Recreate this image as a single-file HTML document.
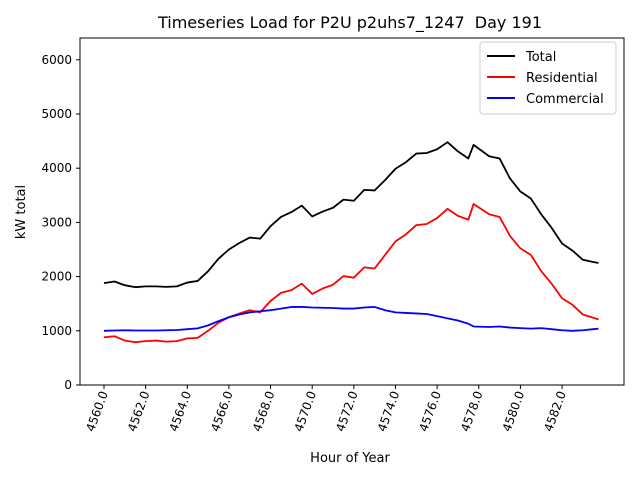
<!DOCTYPE html>
<html><head><meta charset="utf-8"><style>
body{margin:0;background:#fff;font-family:"Liberation Sans","DejaVu Sans",sans-serif}
svg text{font-family:"DejaVu Sans","Liberation Sans",sans-serif;fill:#000}
</style></head><body>
<svg id="chart" width="640" height="480" xmlns="http://www.w3.org/2000/svg">
<rect width="640" height="480" fill="#fff"/>
<text x="350" y="28" font-size="16" text-anchor="middle">Timeseries Load for P2U p2uhs7_1247 &#160;Day 191</text>
<text x="350" y="462" font-size="13" text-anchor="middle">Hour of Year</text>
<text transform="translate(25,212) rotate(-90)" font-size="13" text-anchor="middle">kW total</text>
<g id="plot"></g>
<rect x="80" y="38" width="544" height="347" fill="none" stroke="#000" stroke-width="1"/>
<g>
<rect x="480" y="42" width="136" height="72" fill="#fff" stroke="#ccc" rx="3"/>
<line x1="487" y1="56" x2="515" y2="56" stroke="#000" stroke-width="2"/><text x="526" y="61" font-size="13">Total</text>
<line x1="487" y1="77" x2="515" y2="77" stroke="#f00" stroke-width="2"/><text x="526" y="82" font-size="13">Residential</text>
<line x1="487" y1="98" x2="515" y2="98" stroke="#00f" stroke-width="2"/><text x="526" y="103" font-size="13">Commercial</text>
</g>
</svg>
<script>
const hours=[4560,4560.5,4561,4561.5,4562,4562.5,4563,4563.5,4564,4564.5,4565,4565.5,4566,4566.5,4567,4567.5,4568,4568.5,4569,4569.5,4570,4570.5,4571,4571.5,4572,4572.5,4573,4573.5,4574,4574.5,4575,4575.5,4576,4576.5,4577,4577.5,4577.75,4578.5,4579,4579.5,4580,4580.5,4581,4581.5,4582,4582.5,4583,4583.5,4583.75];
const residential=[880,900,820,790,810,820,800,810,860,870,1000,1150,1250,1320,1380,1340,1550,1700,1750,1870,1680,1780,1850,2010,1980,2170,2150,2400,2650,2780,2950,2970,3080,3250,3120,3050,3340,3150,3100,2750,2520,2400,2100,1870,1600,1480,1300,1240,1210];
const commercial=[1000,1005,1010,1005,1005,1005,1010,1015,1030,1045,1100,1180,1250,1300,1340,1360,1380,1410,1440,1440,1430,1425,1420,1410,1410,1430,1440,1380,1340,1330,1320,1310,1270,1230,1190,1130,1080,1070,1080,1060,1050,1040,1050,1030,1010,1000,1010,1030,1040];
const total=[1880,1910,1840,1805,1820,1820,1810,1820,1890,1920,2100,2330,2500,2620,2720,2700,2930,3100,3190,3310,3110,3200,3270,3420,3400,3600,3590,3780,3990,4110,4270,4280,4350,4480,4310,4180,4430,4220,4180,3810,3570,3440,3150,2900,2610,2480,2310,2270,2250];
const yTicks=[0,1000,2000,3000,4000,5000,6000];
const xTicks=[4560,4562,4564,4566,4568,4570,4572,4574,4576,4578,4580,4582];
const NS="http://www.w3.org/2000/svg";
const xs=h=>104+(h-4560)*20.82;
const ys=v=>385-v*0.0542;
const g=document.getElementById('plot');
function el(t,a){const e=document.createElementNS(NS,t);for(const k in a)e.setAttribute(k,a[k]);g.appendChild(e);return e;}
yTicks.forEach(v=>{
 const l=el('line',{x1:76,x2:80,y1:ys(v),y2:ys(v),stroke:'#000'});
 
 
 const t=el('text',{x:72,y:ys(v)+4,'font-size':12,'text-anchor':'end'});t.textContent=v;
 
 
});
xTicks.forEach(v=>{
 const x=xs(v);
 const l=el('line',{x1:x,x2:x,y1:385,y2:389,stroke:'#000'});
 
 
 const t=el('text',{transform:`translate(${x+4},393) rotate(-70)`,'font-size':12,'text-anchor':'end'});t.textContent=v.toFixed(1);
 
 
});
[[total,'#000','total-line'],[residential,'#f00','residential-line'],[commercial,'#00f','commercial-line']].forEach(([d,c,n])=>{
 const p=el('polyline',{points:d.map((v,i)=>xs(hours[i])+','+ys(v)).join(' '),fill:'none',stroke:c,'stroke-width':1.8,'stroke-linejoin':'round'});
 
 
});
</script>
</body></html>
